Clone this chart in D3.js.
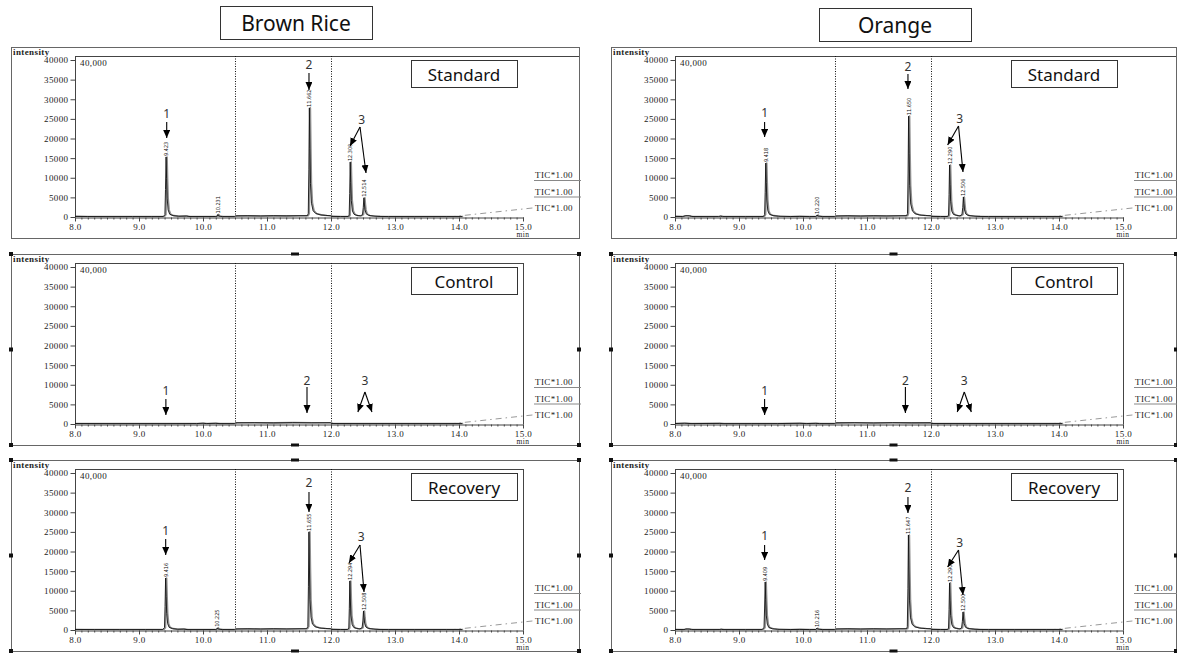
<!DOCTYPE html>
<html>
<head>
<meta charset="utf-8">
<script src="https://cdn.jsdelivr.net/npm/d3@7"></script>
<style>
    body { margin: 0; background: #fff; }
    .tick text, .small { font-family: "Liberation Serif", serif; font-size: 9px; letter-spacing: 0.4px; fill: #222; }
    .rt { font-family: "DejaVu Sans Condensed", "DejaVu Sans", sans-serif; font-size: 5.5px; fill: #111; }
    .num { font-family: "Noto Sans", sans-serif; font-size: 12px; fill: #333; }
    .boxlabel { font-family: "Noto Sans", sans-serif; font-size: 17px; fill: #111; }
    .title { font-family: "Noto Sans", sans-serif; font-size: 21px; fill: #111; }
</style>
</head>
<body>
<svg id="chart" width="1177" height="653"></svg>
<script>

// ---- data ----
const samples = ["Brown Rice", "Orange"];
const conditions = ["Standard", "Control", "Recovery"];
const yTicks = [0, 5000, 10000, 15000, 20000, 25000, 30000, 35000, 40000];
const xTicks = [8.0, 9.0, 10.0, 11.0, 12.0, 13.0, 14.0, 15.0];
const segmentCuts = [10.5, 12.0];
const ticLabels = ["TIC*1.00", "TIC*1.00", "TIC*1.00"];
const driftLine = [[13.85, 0], [15.15, 2300]];

// chromatogram traces [min, intensity]
const brStandardTrace = [
    [8.00,150],[8.20,120],[8.50,100],[8.90,110],[9.20,100],[9.38,110],
    [9.405,600],[9.414,7000],[9.423,15300],[9.431,9800],[9.440,4800],[9.455,1800],[9.48,700],[9.53,350],[9.62,200],
    [9.74,260],[9.78,120],[10.00,110],[10.20,120],[10.222,250],[10.231,650],[10.242,250],[10.30,110],[10.49,100],
    [10.51,280],[10.70,320],[10.90,260],[11.10,330],[11.30,280],[11.50,320],[11.63,330],
    [11.645,900],[11.654,12000],[11.662,27800],[11.670,17500],[11.679,8500],[11.695,3500],[11.72,1600],[11.76,900],[11.83,550],[11.92,400],[11.99,330],
    [12.01,150],[12.15,120],[12.27,130],
    [12.284,500],[12.292,6000],[12.300,14000],[12.308,8800],[12.317,4200],[12.335,1500],[12.36,700],[12.40,400],[12.46,300],
    [12.492,600],[12.504,2400],[12.514,4900],[12.522,3300],[12.532,1800],[12.55,800],[12.59,400],[12.66,250],[12.75,150],
    [12.90,110],[13.30,100],[13.80,110],[14.05,100]
];
const brControlTrace = [
    [8.00,120],[8.50,100],[9.00,100],[9.50,100],[9.90,110],[10.00,200],[10.05,110],[10.20,180],[10.25,100],[10.49,100],
    [10.51,300],[10.80,330],[11.10,280],[11.40,340],[11.70,300],[11.99,320],
    [12.01,120],[12.50,100],[13.00,110],[13.50,100],[14.05,100]
];
const brRecoveryTrace = [
    [8.00,140],[8.30,110],[8.70,100],[9.10,110],[9.37,100],
    [9.398,600],[9.407,6000],[9.416,13250],[9.424,8500],[9.433,4200],[9.448,1600],[9.47,700],[9.52,350],[9.60,200],
    [9.70,240],[9.75,110],[10.00,110],[10.20,120],[10.216,250],[10.225,550],[10.236,250],[10.30,110],[10.49,100],
    [10.51,260],[10.70,300],[10.90,250],[11.10,310],[11.30,270],[11.50,300],[11.62,320],
    [11.638,900],[11.647,11000],[11.655,25000],[11.663,15800],[11.672,7800],[11.688,3200],[11.71,1500],[11.75,850],[11.82,520],[11.91,380],[11.99,320],
    [12.01,150],[12.15,120],[12.26,130],
    [12.278,500],[12.286,5400],[12.294,12500],[12.302,7900],[12.311,3800],[12.33,1400],[12.355,650],[12.40,380],[12.45,280],
    [12.486,580],[12.498,2300],[12.508,4850],[12.516,3200],[12.526,1700],[12.545,760],[12.585,380],[12.66,240],[12.75,140],
    [12.90,110],[13.30,100],[13.80,110],[14.05,100]
];
const orStandardTrace = [
    [8.00,150],[8.12,120],[8.16,320],[8.22,300],[8.26,120],[8.50,100],[8.68,110],[8.71,230],[8.74,110],[9.10,100],[9.38,110],
    [9.400,600],[9.409,6300],[9.418,13750],[9.426,8800],[9.435,4300],[9.45,1600],[9.475,700],[9.53,350],[9.62,200],
    [9.80,120],[9.95,150],[10.10,110],[10.20,130],[10.211,250],[10.220,520],[10.231,250],[10.30,110],[10.49,100],
    [10.51,250],[10.70,300],[10.90,240],[11.10,310],[11.30,270],[11.50,300],[11.62,320],
    [11.633,900],[11.642,11200],[11.650,25700],[11.658,16200],[11.667,8000],[11.683,3300],[11.71,1500],[11.75,850],[11.82,520],[11.91,380],[11.99,320],
    [12.01,150],[12.15,120],[12.26,130],
    [12.274,500],[12.282,5700],[12.290,13250],[12.298,8300],[12.307,4000],[12.325,1450],[12.35,680],[12.40,390],[12.45,290],
    [12.484,600],[12.496,2400],[12.506,5100],[12.514,3400],[12.524,1800],[12.543,780],[12.58,390],[12.66,240],[12.75,150],
    [12.90,110],[13.30,100],[13.80,110],[14.05,100]
];
const orControlTrace = [
    [8.00,120],[8.15,200],[8.25,110],[8.70,150],[8.75,100],[9.20,100],[9.60,110],[9.95,180],[10.05,110],[10.20,170],[10.26,100],[10.49,100],
    [10.51,280],[10.80,320],[11.10,270],[11.40,330],[11.70,290],[11.99,310],
    [12.01,120],[12.50,100],[13.00,110],[13.50,100],[14.05,100]
];
const orRecoveryTrace = [
    [8.00,140],[8.14,110],[8.17,260],[8.22,240],[8.26,110],[8.50,100],[8.69,110],[8.72,200],[8.75,110],[9.10,100],[9.36,110],
    [9.391,600],[9.400,5600],[9.409,12230],[9.417,7800],[9.426,3800],[9.442,1500],[9.465,650],[9.52,330],[9.60,190],
    [9.80,120],[9.95,150],[10.10,110],[10.20,130],[10.207,240],[10.216,480],[10.227,240],[10.30,110],[10.49,100],
    [10.51,250],[10.70,300],[10.90,240],[11.10,300],[11.30,260],[11.50,300],[11.62,310],
    [11.630,900],[11.639,10500],[11.647,24200],[11.655,15300],[11.664,7600],[11.68,3100],[11.705,1450],[11.745,820],[11.82,500],[11.91,370],[11.99,310],
    [12.01,150],[12.15,120],[12.26,130],
    [12.274,500],[12.282,5200],[12.290,12000],[12.298,7600],[12.307,3700],[12.325,1350],[12.35,640],[12.40,370],[12.45,280],
    [12.478,560],[12.490,2200],[12.500,4600],[12.508,3050],[12.518,1650],[12.537,730],[12.575,370],[12.66,230],[12.75,140],
    [12.90,110],[13.30,100],[13.80,110],[14.05,100]
];

// retention-time labels [min, peak top, text]
const brStandardPeaks = [[9.423,15300,"9.423"],[10.231,650,"10.231"],[11.662,27800,"11.662"],[12.300,14000,"12.300"],[12.514,4900,"12.514"]];
const brControlPeaks = [];
const brRecoveryPeaks = [[9.416,13250,"9.416"],[10.225,550,"10.225"],[11.655,25000,"11.655"],[12.294,12500,"12.294"],[12.508,4850,"12.508"]];
const orStandardPeaks = [[9.418,13750,"9.418"],[10.220,520,"10.220"],[11.650,25700,"11.650"],[12.290,13250,"12.290"],[12.506,5100,"12.506"]];
const orControlPeaks = [];
const orRecoveryPeaks = [[9.409,12230,"9.409"],[10.216,480,"10.216"],[11.647,24200,"11.647"],[12.290,12000,"12.290"],[12.500,4600,"12.500"]];

// peak markers: [text, label min, label y, shaft start min, shaft start y, arrow tips]
const brStandardMarks = [
    ["1", 9.433, 26250, 9.433, 24200, [[9.433, 20130]]],
    ["2", 11.656, 38980, 11.656, 36690, [[11.656, 32360]]],
    ["3", 12.48, 24720, 12.453, 22930, [[12.297, 18090], [12.547, 11210]]]
];
const brControlMarks = [
    ["1", 9.42, 8485, 9.42, 6370, [[9.42, 2290]]],
    ["2", 11.625, 10960, 11.625, 9430, [[11.625, 2800]]],
    ["3", 12.53, 11210, 12.53, 8150, [[12.42, 3060], [12.64, 3060]]]
];
const brRecoveryMarks = [
    ["1", 9.417, 25225, 9.417, 23190, [[9.417, 19110]]],
    ["2", 11.656, 37460, 11.656, 35160, [[11.656, 30070]]],
    ["3", 12.47, 23700, 12.453, 21660, [[12.281, 17070], [12.516, 9680]]]
];
const orStandardMarks = [
    ["1", 9.40, 26500, 9.40, 24200, [[9.40, 20380]]],
    ["2", 11.64, 38470, 11.64, 36430, [[11.64, 32610]]],
    ["3", 12.45, 24970, 12.43, 23200, [[12.26, 18350], [12.50, 11470]]]
];
const orControlMarks = [
    ["1", 9.40, 8485, 9.40, 6370, [[9.40, 2290]]],
    ["2", 11.60, 10960, 11.60, 9430, [[11.60, 2800]]],
    ["3", 12.52, 11210, 12.52, 8150, [[12.41, 3060], [12.63, 3060]]]
];
const orRecoveryMarks = [
    ["1", 9.40, 23950, 9.40, 21660, [[9.40, 17840]]],
    ["2", 11.64, 36180, 11.64, 33890, [[11.64, 29810]]],
    ["3", 12.45, 22420, 12.43, 20380, [[12.26, 16050], [12.50, 8920]]]
];

const traces = [[brStandardTrace, brControlTrace, brRecoveryTrace], [orStandardTrace, orControlTrace, orRecoveryTrace]];
const peaks = [[brStandardPeaks, brControlPeaks, brRecoveryPeaks], [orStandardPeaks, orControlPeaks, orRecoveryPeaks]];
const marks = [[brStandardMarks, brControlMarks, brRecoveryMarks], [orStandardMarks, orControlMarks, orRecoveryMarks]];

// ---- layout ----
const colOffset = [0, 600];
const rowBase = [217, 424, 630];   // pixel row of intensity 0
const plotH = 157;                 // pixels for 0..40000

let svg = d3.select("#chart");

svg.append("defs").append("marker")
    .attr("id", "head")
    .attr("viewBox", "0 0 8 8")
    .attr("refX", 8).attr("refY", 3.5)
    .attr("markerWidth", 8).attr("markerHeight", 8)
    .attr("markerUnits", "userSpaceOnUse")
    .attr("orient", "auto")
    .append("path")
    .attr("d", "M0,0 L8,3.5 L0,7 Z")
    .attr("fill", "#000");

// sample title boxes
samples.forEach(function(name, c) {
    let g = svg.append("g");
    let bx = 220 + colOffset[c] - (c ? 1 : 0), by = 6 + c * 2;
    g.append("rect")
        .attr("x", bx + 0.5).attr("y", by + 0.5)
        .attr("width", 152).attr("height", 33)
        .attr("fill", "#fff").attr("stroke", "#333");
    g.append("text").attr("class", "title")
        .attr("x", bx + 76).attr("y", by + 17)
        .attr("text-anchor", "middle")
        .attr("dominant-baseline", "central")
        .text(name);
});

function drawPanel(c, r) {
    let dx = colOffset[c];
    let base = rowBase[r];

    let x = d3.scaleLinear().domain([8, 15]).range([75 + dx, 523 + dx]);
    let y = d3.scaleLinear().domain([0, 40000]).range([base, base - plotH]);

    let g = svg.append("g");

    // outer window box
    let ox0 = 11 + dx, ox1 = c ? 1176 : 579;
    let oy0 = base - 170, oy1 = base + 21;
    g.append("rect")
        .attr("x", ox0 + 0.5).attr("y", oy0 + 0.5)
        .attr("width", ox1 - ox0).attr("height", oy1 - oy0)
        .attr("fill", "none").attr("stroke", "#666");

    // selection handles on the lower two windows
    if (r > 0) {
        let mx = (ox0 + ox1) / 2, my = (oy0 + oy1) / 2;
        [[ox0, oy0], [ox1, oy0], [ox0, oy1], [ox1, oy1], [ox0, my], [ox1, my]].forEach(function(p) {
            g.append("rect").attr("x", p[0] - 2).attr("y", p[1] - 2)
                .attr("width", 4).attr("height", 4).attr("fill", "#111");
        });
        [oy0, oy1].forEach(function(py) {
            g.append("rect").attr("x", mx - 4).attr("y", py - 1.5)
                .attr("width", 8).attr("height", 3).attr("fill", "#111");
        });
    }

    // inner plot frame
    let fTop = base - 161;
    g.append("line")
        .attr("x1", x(8) + 0.5).attr("x2", r === 0 ? ox1 : x(15) + 0.5)
        .attr("y1", fTop + 0.5).attr("y2", fTop + 0.5)
        .attr("stroke", "#444");
    g.append("line")
        .attr("x1", x(8) + 0.5).attr("x2", x(8) + 0.5)
        .attr("y1", fTop).attr("y2", base)
        .attr("stroke", "#444");
    if (r > 0) {
        g.append("line")
            .attr("x1", x(15) + 0.5).attr("x2", x(15) + 0.5)
            .attr("y1", fTop).attr("y2", base)
            .attr("stroke", "#444");
    }

    g.append("text").attr("class", "small")
        .attr("x", ox0 + 2).attr("y", oy0 + 8)
        .attr("font-weight", "bold")
        .text("intensity");

    g.append("text").attr("class", "small")
        .attr("x", x(8) + 5).attr("y", y(40000) + 6)
        .text("40,000");

    // y axis
    let yAxis = g.append("g")
        .attr("transform", "translate(" + (x(8) + 0.5) + ",0)")
        .call(d3.axisLeft(y).tickValues(yTicks).tickSize(5).tickSizeOuter(0).tickPadding(2)
            .tickFormat(d3.format("d")));
    yAxis.select(".domain").remove();
    yAxis.selectAll("line").attr("stroke", "#444");

    // x axis with minor ticks
    let minor = d3.range(80, 151).map(function(d) { return d / 10; });
    let xMinor = g.append("g")
        .attr("transform", "translate(0," + (base + 0.5) + ")")
        .call(d3.axisBottom(x).tickValues(minor).tickSize(2).tickFormat(""));
    xMinor.selectAll("line").attr("stroke", "#444");
    xMinor.select(".domain").attr("stroke", "#444");

    let xAxis = g.append("g")
        .attr("transform", "translate(0," + (base + 0.5) + ")")
        .call(d3.axisBottom(x).tickValues(xTicks).tickSize(4).tickSizeOuter(0).tickPadding(2)
            .tickFormat(d3.format(".1f")));
    xAxis.select(".domain").remove();
    xAxis.selectAll("line").attr("stroke", "#444");

    g.append("text").attr("class", "small")
        .attr("x", x(15)).attr("y", base + 20)
        .attr("text-anchor", "middle")
        .style("font-size", "7.5px")
        .text("min");

    // dotted segment lines
    g.selectAll(".cut").data(segmentCuts).enter().append("line")
        .attr("x1", function(d) { return x(d) + 0.5; })
        .attr("x2", function(d) { return x(d) + 0.5; })
        .attr("y1", fTop).attr("y2", base)
        .attr("stroke", "#111")
        .attr("stroke-dasharray", "1,1.5");

    // drift line + TIC labels
    let line = d3.line()
        .x(function(d) { return x(d[0]); })
        .y(function(d) { return y(d[1]); });

    g.append("path").datum(driftLine)
        .attr("d", line)
        .attr("fill", "none").attr("stroke", "#999")
        .attr("stroke-dasharray", "6,4,1.5,4");

    ticLabels.forEach(function(t, i) {
        let ty = base - 42 + i * 16.5;
        g.append("text").attr("class", "small")
            .attr("x", x(15) + 12).attr("y", ty + 3)
            .text(t);
        if (i < 2) {
            g.append("line")
                .attr("x1", x(15) + 11).attr("x2", x(15) + 58)
                .attr("y1", ty + 5.5).attr("y2", ty + 5.5)
                .attr("stroke", "#888");
        }
    });

    // chromatogram trace: a gray copy just right of a thin black one
    let tr = traces[c][r];
    g.append("path").datum(tr)
        .attr("d", line)
        .attr("transform", "translate(1,0)")
        .attr("fill", "none").attr("stroke", "#8f8f8f")
        .attr("stroke-width", 1.6).attr("stroke-linejoin", "round");
    g.append("path").datum(tr)
        .attr("d", line)
        .attr("fill", "none").attr("stroke", "#111")
        .attr("stroke-width", 0.9);

    // retention time labels
    g.selectAll(".rt").data(peaks[c][r]).enter().append("text")
        .attr("class", "rt")
        .attr("transform", function(d) {
            return "translate(" + (x(d[0]) + 2) + "," + (y(d[1]) - 1) + ") rotate(-90)";
        })
        .text(function(d) { return d[2]; });

    // condition label box
    let lx = 411 + dx, ly = base - plotH;
    g.append("rect")
        .attr("x", lx + 0.5).attr("y", ly + 0.5)
        .attr("width", 106).attr("height", 27)
        .attr("fill", "#fff").attr("stroke", "#333");
    g.append("text").attr("class", "boxlabel")
        .attr("x", lx + 53).attr("y", ly + 14)
        .attr("text-anchor", "middle")
        .attr("dominant-baseline", "central")
        .text(conditions[r]);

    // numbered peak markers
    marks[c][r].forEach(function(m) {
        g.append("text").attr("class", "num")
            .attr("x", x(m[1])).attr("y", y(m[2]))
            .attr("text-anchor", "middle")
            .attr("dominant-baseline", "central")
            .text(m[0]);
        m[5].forEach(function(tip) {
            g.append("line")
                .attr("x1", x(m[3])).attr("y1", y(m[4]))
                .attr("x2", x(tip[0])).attr("y2", y(tip[1]))
                .attr("stroke", "#000").attr("stroke-width", 1.1)
                .attr("marker-end", "url(#head)");
        });
    });
}

[0, 1].forEach(function(c) {
    [0, 1, 2].forEach(function(r) { drawPanel(c, r); });
});

</script>
</body>
</html>
